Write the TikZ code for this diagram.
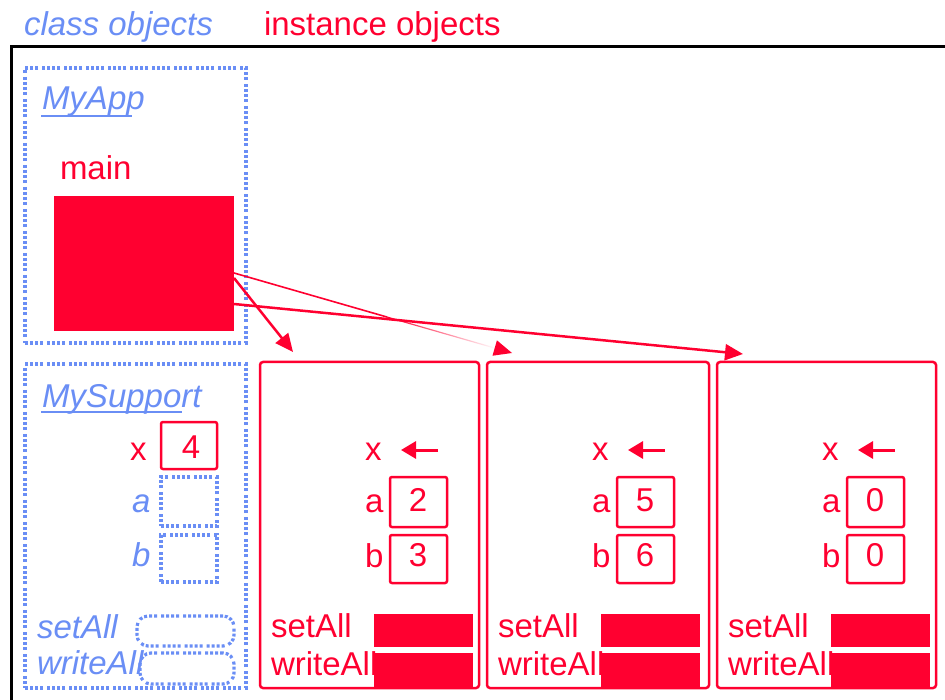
\documentclass[tikz,border=0pt]{standalone}
\usepackage{fontspec}
\setmainfont{Liberation Sans}
\usetikzlibrary{arrows.meta,calc,fadings}
\definecolor{objred}{HTML}{FF0030}
\definecolor{clsblue}{HTML}{6A8EF5}

\begin{document}
\begin{tikzpicture}[x=1pt,y=-1pt,
  every node/.style={inner sep=0pt, outer sep=0pt},
  big/.style={font=\fontsize{33}{40}\selectfont},
  redtxt/.style={anchor=base west, big, text=objred},
  bluetxt/.style={anchor=base west, font=\fontsize{33}{40}\selectfont\itshape, text=clsblue},
  dotline/.style={draw=clsblue, line width=3.2pt,
    dash pattern=on 3pt off 2pt on 3pt off 2pt on 3pt off 2pt on 3pt off 4pt},
  dotbox/.style={dotline, rectangle},
  instbox/.style={draw=objred, line width=2.5pt, rounded corners=3pt, rectangle},
  cellbox/.style={draw=objred, line width=2.5pt, rounded corners=2pt, rectangle},
  solidred/.style={fill=objred, rectangle},
  ref/.style={draw=objred, line width=2.5pt, -{Triangle[length=18pt,width=16pt]}},
  ptr/.style={draw=objred, line width=3pt, -{Triangle[length=15pt,width=17pt]}},
]
\useasboundingbox (0,0) rectangle (945,700);

% outer frame (only its top and left sides are in view)
\draw[line width=3pt] (11,720) |- (960,47);

% headings
\node[bluetxt] (hcls) at (24,36) {class objects};
\node[redtxt] (hinst) at (264,36) {instance objects};

% ---- class MyApp ----
\node[dotbox, minimum width=221pt, minimum height=275pt] (myapp) at (135.5,205.5) {};
\node[bluetxt] (myappname) at (42,110) {MyApp};
\draw[clsblue, line width=2pt] (41,116) -- (132,116);
\node[redtxt] (mainlbl) at (60,180) {main};
\node[solidred, minimum width=180pt, minimum height=135pt] (main) at (144,263.5) {};

% ---- class MySupport ----
\node[dotbox, minimum width=221pt, minimum height=324pt] (mysup) at (135.5,526) {};
\node[bluetxt] (mysupname) at (42,407) {MySupport};
\draw[clsblue, line width=2pt] (41,412) -- (182,412);
\node[redtxt] (sx) at (130,460) {x};
\node[cellbox, minimum width=56pt, minimum height=47pt] (sxcell) at (189,445.5) {};
\node[anchor=base, big, text=objred] (sxval) at (191,458) {4};
\node[bluetxt] (sa) at (132,512) {a};
\node[dotbox, minimum width=56pt, minimum height=49pt] (sacell) at (189,501.5) {};
\node[bluetxt] (sb) at (132,566) {b};
\node[dotbox, minimum width=56pt, minimum height=47pt] (sbcell) at (189,558.5) {};
\node[bluetxt] (ssetall) at (37,638) {setAll};
\node[dotline, rounded corners=11pt, rectangle, minimum width=97pt, minimum height=30pt] (ssetslot) at (185.5,631) {};
\node[bluetxt] (swriteall) at (37,674) {writeAll};
\node[dotline, rounded corners=11pt, rectangle, minimum width=94pt, minimum height=31pt] (swriteslot) at (187,668.5) {};

% ---- instance objects ----
\foreach \L/\W/\n/\va/\vb in {260/219/1/2/3, 487/222/2/5/6, 717/219/3/0/0}{
  \node[instbox, minimum width=\W pt, minimum height=326pt] (inst\n) at (\L+\W/2,525) {};
  \node[redtxt] (ix\n) at (\L+105,460) {x};
  \coordinate (ixs\n) at (\L+178,450);
  \coordinate (ixt\n) at (\L+141,450);
  \draw[ptr] (ixs\n) -- (ixt\n);
  \node[redtxt] (ia\n) at (\L+105,512) {a};
  \node[cellbox, minimum width=57pt, minimum height=50pt] (iacell\n) at (\L+158.5,502) {};
  \node[anchor=base, big, text=objred] (iaval\n) at (\L+158,511) {\va};
  \node[redtxt] (ib\n) at (\L+105,567) {b};
  \node[cellbox, minimum width=57pt, minimum height=48pt] (ibcell\n) at (\L+158.5,559) {};
  \node[anchor=base, big, text=objred] (ibval\n) at (\L+158,566) {\vb};
  \node[redtxt] (iset\n) at (\L+11,637) {setAll};
  \node[solidred, minimum width=99pt, minimum height=33pt] (isetslot\n) at (\L+163.5,630.5) {};
  \node[redtxt] (iwrite\n) at (\L+11,675) {writeAll};
  \node[solidred, minimum width=99pt, minimum height=35pt] (iwriteslot\n) at (\L+163.5,670.5) {};
}

% ---- references from main to the three instances ----
\coordinate (t1) at ([xshift=33pt,yshift=10pt]inst1.north west);
\coordinate (t2) at ([xshift=25pt,yshift=9pt]inst2.north west);
\coordinate (t3) at ([xshift=26pt,yshift=8pt]inst3.north west);
\coordinate (s1) at ([yshift=-14.5pt]main.east);
\coordinate (s2) at ([yshift=-9.5pt]main.east);
\coordinate (s3) at ([yshift=-40.5pt]main.east);

\draw[ref] (s1) -- (t1);
\draw[ref] (s3) -- (t3);
% the middle reference thins out towards its head
\draw[objred, line width=1.6pt] (s2) -- ($(s2)!0.55!(t2)$);
\draw[objred, line width=1.2pt, path fading=east] ($(s2)!0.55!(t2)$) -- ($(s2)!0.94!(t2)$);
\draw[draw=none, fill=objred] (t2) -- ($(t2)!18pt!(s2)!8pt!90:(s2)$) -- ($(t2)!18pt!(s2)!8pt!-90:(s2)$) -- cycle;
\end{tikzpicture}
\end{document}
